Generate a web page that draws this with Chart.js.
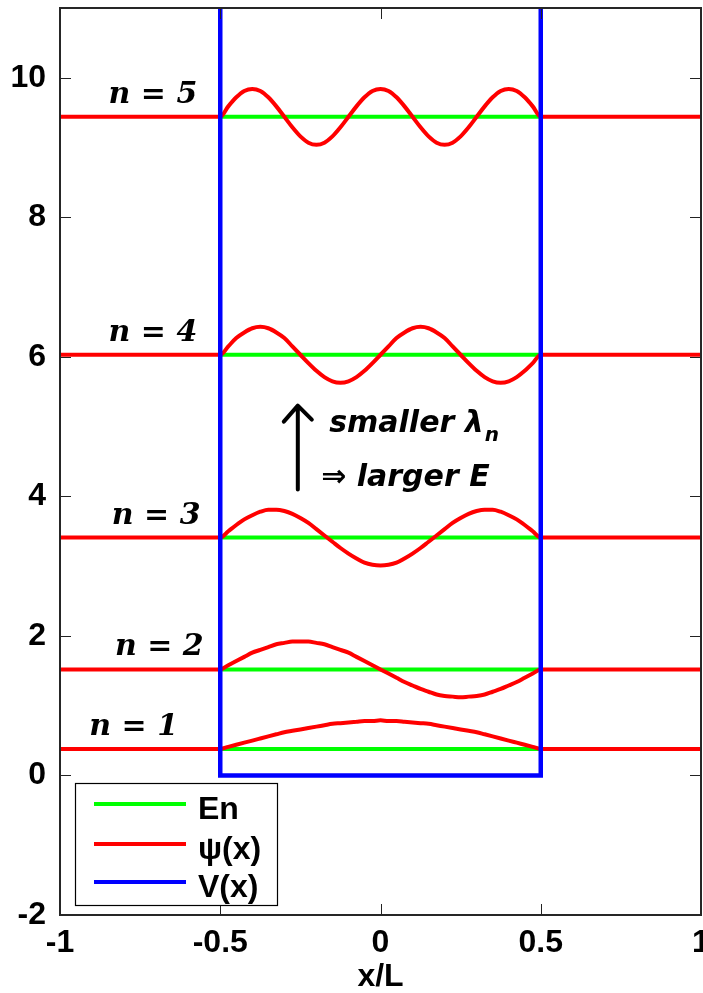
<!DOCTYPE html>
<html>
<head>
<meta charset="utf-8">
<script src="https://cdn.jsdelivr.net/npm/chart.js@4/dist/chart.umd.min.js"></script>
<style>
  html, body { margin: 0; padding: 0; background: #ffffff; }
  #wrap { width: 703px; height: 993px; }
</style>
</head>
<body>
<div id="wrap"><canvas id="c" width="703" height="993"></canvas></div>
<script>
// ---- data ----
const xTicks = [-1, -0.5, 0, 0.5, 1];
const xTickLabels = ['-1', '-0.5', '0', '0.5', '1'];
const yTicks = [-2, 0, 2, 4, 6, 8, 10];
const levels = [1, 2, 3, 4, 5];
const energies = [0.38, 1.52, 3.41, 6.03, 9.44];
const xIn = [-0.5, -0.475, -0.45, -0.425, -0.4, -0.375, -0.35, -0.325, -0.3, -0.275, -0.25, -0.225, -0.2, -0.175, -0.15, -0.125, -0.1, -0.075, -0.05, -0.025, 0,
             0.025, 0.05, 0.075, 0.1, 0.125, 0.15, 0.175, 0.2, 0.225, 0.25, 0.275, 0.3, 0.325, 0.35, 0.375, 0.4, 0.425, 0.45, 0.475, 0.5];
const psi1 = [0.38,0.41,0.44,0.47,0.50,0.53,0.56,0.59,0.62,0.64,0.66,0.68,0.70,0.72,0.74,0.75,0.76,0.77,0.78,0.78,0.79,0.78,0.78,0.77,0.76,0.75,0.74,0.72,0.70,0.68,0.66,0.64,0.62,0.59,0.56,0.53,0.50,0.47,0.44,0.41,0.38];
const psi2 = [1.52,1.58,1.64,1.70,1.76,1.80,1.84,1.88,1.90,1.92,1.92,1.92,1.90,1.88,1.84,1.80,1.76,1.70,1.64,1.58,1.52,1.46,1.40,1.34,1.29,1.24,1.20,1.16,1.14,1.13,1.12,1.13,1.14,1.16,1.20,1.24,1.29,1.34,1.40,1.46,1.52];
const psi3 = [3.41,3.50,3.59,3.67,3.73,3.78,3.81,3.81,3.79,3.75,3.69,3.62,3.53,3.44,3.35,3.26,3.18,3.11,3.05,3.02,3.01,3.02,3.05,3.11,3.18,3.26,3.35,3.44,3.53,3.62,3.69,3.75,3.79,3.81,3.81,3.78,3.73,3.67,3.59,3.50,3.41];
const psi4 = [6.03,6.15,6.27,6.35,6.41,6.43,6.41,6.35,6.27,6.15,6.03,5.91,5.80,5.71,5.65,5.63,5.65,5.71,5.80,5.91,6.03,6.15,6.27,6.35,6.41,6.43,6.41,6.35,6.27,6.15,6.03,5.91,5.80,5.71,5.65,5.63,5.65,5.71,5.80,5.91,6.03];
const psi5 = [9.44,9.59,9.72,9.81,9.84,9.81,9.72,9.59,9.44,9.29,9.16,9.07,9.04,9.07,9.16,9.29,9.44,9.59,9.72,9.81,9.84,9.81,9.72,9.59,9.44,9.29,9.16,9.07,9.04,9.07,9.16,9.29,9.44,9.59,9.72,9.81,9.84,9.81,9.72,9.59,9.44];
const psiAll = [psi1, psi2, psi3, psi4, psi5];
const wellX = [-0.5, -0.5, 0.5, 0.5];
const wellV = [11, 0, 0, 11];
const seriesNames = ['En', 'ψ(x)', 'V(x)'];
const levelLabels = ['n = 1', 'n = 2', 'n = 3', 'n = 4', 'n = 5'];

// ---- styles ----
const GREEN = '#00ff00', RED = '#ff0000', BLUE = '#0000ff';
const FONT = '"Liberation Sans", Arial, sans-serif';

// ---- datasets built from the arrays ----
const datasets = [];
levels.forEach((n, i) => {
  datasets.push({
    label: seriesNames[0],
    data: [{x: -0.5, y: energies[i]}, {x: 0.5, y: energies[i]}],
    borderColor: GREEN, borderWidth: 4, order: 3, pointRadius: 0, tension: 0
  });
});
levels.forEach((n, i) => {
  const pts = [{x: -1, y: energies[i]}];
  xIn.forEach((x, k) => pts.push({x: x, y: psiAll[i][k]}));
  pts.push({x: 1, y: energies[i]});
  datasets.push({
    label: seriesNames[1],
    data: pts,
    borderColor: RED, borderWidth: 4, order: 2, pointRadius: 0,
    cubicInterpolationMode: 'monotone', borderJoinStyle: 'round'
  });
});
datasets.push({
  label: seriesNames[2],
  data: wellX.map((x, k) => ({x: x, y: wellV[k]})),
  borderColor: BLUE, borderWidth: 4.5, order: 1, pointRadius: 0, tension: 0,
  borderJoinStyle: 'miter', borderCapStyle: 'butt'
});

// ---- decorations: box, inward ticks, legend, hand annotations ----
const deco = {
  id: 'deco',
  afterDraw(chart) {
    const ctx = chart.ctx;
    const a = chart.chartArea;
    const xs = chart.scales.x, ys = chart.scales.y;
    ctx.save();
    // inward ticks
    ctx.strokeStyle = '#222';
    ctx.lineWidth = 1;
    const tl = 11;
    ys.ticks.forEach(t => {
      const py = Math.round(ys.getPixelForValue(t.value)) + 0.5;
      ctx.beginPath();
      ctx.moveTo(a.left, py); ctx.lineTo(a.left + tl, py);
      ctx.moveTo(a.right, py); ctx.lineTo(a.right - tl, py);
      ctx.stroke();
    });
    xs.ticks.forEach(t => {
      const px = Math.round(xs.getPixelForValue(t.value)) + 0.5;
      ctx.beginPath();
      ctx.moveTo(px, a.bottom); ctx.lineTo(px, a.bottom - tl);
      ctx.moveTo(px, a.top); ctx.lineTo(px, a.top + tl);
      ctx.stroke();
    });
    // axes box
    ctx.strokeStyle = '#262626';
    ctx.lineWidth = 2;
    ctx.strokeRect(a.left, a.top, a.right - a.left, a.bottom - a.top);

    // legend
    const lx = a.left + 15, ly = a.bottom - 132, lw = 202, lh = 122;
    ctx.fillStyle = '#ffffff';
    ctx.fillRect(lx, ly, lw, lh);
    ctx.strokeStyle = '#000';
    ctx.lineWidth = 1.2;
    ctx.strokeRect(lx + 0.5, ly + 0.5, lw, lh);
    const legendColors = [GREEN, RED, BLUE];
    const rowY = [21, 61, 99];
    seriesNames.forEach((name, i) => {
      const yy = ly + rowY[i];
      ctx.strokeStyle = legendColors[i];
      ctx.lineWidth = 4;
      ctx.beginPath();
      ctx.moveTo(lx + 19, yy); ctx.lineTo(lx + 111, yy);
      ctx.stroke();
      ctx.fillStyle = '#000';
      ctx.font = 'bold 32px ' + FONT;
      ctx.textAlign = 'left';
      ctx.textBaseline = 'middle';
      ctx.fillText(name, lx + 123, yy + 6);
    });

    // hand-written level labels
    ctx.fillStyle = '#000';
    ctx.font = 'italic bold 30px "DejaVu Serif", serif';
    ctx.textAlign = 'center';
    ctx.textBaseline = 'alphabetic';
    const labX = [-0.77, -0.69, -0.7, -0.71, -0.71];
    levels.forEach((n, i) => {
      const px = xs.getPixelForValue(labX[i]);
      const py = ys.getPixelForValue(energies[i]) - 14;
      ctx.fillText(levelLabels[i], px, py);
    });

    // arrow
    const ax = xs.getPixelForValue(-0.258);
    const ay0 = ys.getPixelForValue(4.1), ay1 = ys.getPixelForValue(5.3);
    ctx.strokeStyle = '#000';
    ctx.lineWidth = 4;
    ctx.lineCap = 'round';
    ctx.lineJoin = 'round';
    ctx.beginPath();
    ctx.moveTo(ax, ay0); ctx.lineTo(ax, ay1);
    ctx.moveTo(ax - 14, ay1 + 16); ctx.lineTo(ax, ay1); ctx.lineTo(ax + 14, ay1 + 14);
    ctx.stroke();

    // annotation text
    ctx.textAlign = 'left';
    ctx.font = 'italic bold 30px "DejaVu Sans", sans-serif';
    const t1x = xs.getPixelForValue(-0.16), t1y = ys.getPixelForValue(4.92);
    ctx.fillText('smaller λ', t1x, t1y);
    const w1 = ctx.measureText('smaller λ').width;
    ctx.font = 'italic bold 20px "DejaVu Sans", sans-serif';
    ctx.fillText('n', t1x + w1 + 1, t1y + 9);
    ctx.font = 'italic bold 30px "DejaVu Sans", sans-serif';
    const t2x = xs.getPixelForValue(-0.185), t2y = ys.getPixelForValue(4.15);
    ctx.fillText('⇒ larger E', t2x, t2y);
    ctx.restore();
  }
};

new Chart(document.getElementById('c'), {
  type: 'line',
  data: { datasets: datasets },
  options: {
    responsive: false,
    animation: false,
    devicePixelRatio: 1,
    layout: { padding: { top: 8, right: 2, left: 0, bottom: 0 } },
    plugins: { legend: { display: false }, tooltip: { enabled: false } },
    elements: { point: { radius: 0 } },
    scales: {
      x: {
        type: 'linear', min: -1, max: 1,
        grid: { display: false, drawTicks: false },
        border: { display: false },
        afterBuildTicks(s) { s.ticks = xTicks.map(v => ({value: v})); },
        ticks: { color: '#000', padding: 9, autoSkip: false, maxRotation: 0,
                 callback(v) { const k = xTicks.indexOf(v); return k >= 0 ? xTickLabels[k] : ''; },
                 font: { family: FONT, size: 32, weight: 'bold' } },
        title: { display: true, text: 'x/L', color: '#000', padding: { top: 0, bottom: 0 },
                 font: { family: FONT, size: 32, weight: 'bold', lineHeight: 1 } },
        afterFit(s) { s.height = 78; s.paddingLeft = 0; s.paddingRight = 0; }
      },
      y: {
        type: 'linear', min: -2, max: 11,
        grid: { display: false, drawTicks: false },
        border: { display: false },
        afterBuildTicks(s) { s.ticks = yTicks.map(v => ({value: v})); },
        ticks: { color: '#000', padding: 14, autoSkip: false,
                 font: { family: FONT, size: 32, weight: 'bold' } },
        afterFit(s) { s.width = 60; s.paddingTop = 0; s.paddingBottom = 0; }
      }
    }
  },
  plugins: [deco]
});
</script>
</body>
</html>
